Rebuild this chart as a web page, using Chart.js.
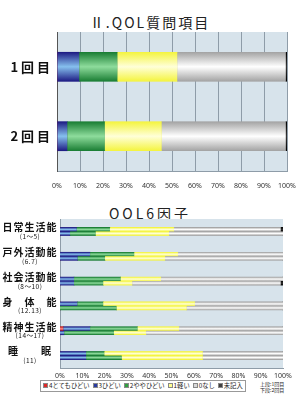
<!DOCTYPE html>
<html lang="ja">
<head>
<meta charset="UTF-8">
<title>QOL質問項目</title>
<script src="https://cdn.jsdelivr.net/npm/chart.js"></script>
<style>
  * { box-sizing: border-box; }
  body {
    margin: 0;
    width: 300px;
    height: 400px;
    background: #fff;
    font-family: "Noto Sans CJK JP", "Noto Sans", sans-serif;
    color: #222;
    position: relative;
    overflow: hidden;
  }
  .title {
    position: absolute;
    left: 0;
    width: 300px;
    text-align: center;
    font-size: 14px;
    line-height: 18px;
    letter-spacing: 2px;
  }
  .box { position: absolute; left: 0; width: 300px; }
  #legend {
    position: absolute;
    left: 40px;
    top: 380px;
    height: 12px;
    border: 1px solid #999;
    font-size: 6.3px;
    line-height: 10px;
    white-space: nowrap;
    padding: 0 2px;
  }
  #legend span { margin-right: 3px; }
  #legend span:last-child { margin-right: 0; }
  #legend i {
    display: inline-block;
    width: 5px;
    height: 5px;
    margin-right: 1px;
    vertical-align: 0;
  }
  #note {
    position: absolute;
    left: 260px;
    top: 381px;
    font-size: 5px;
    line-height: 6px;
  }
</style>
</head>
<body>
  <div class="title" style="top:13px">Ⅱ.QOL質問項目</div>
  <div class="box" style="top:0;height:195px"><canvas id="itemChart"></canvas></div>

  <div class="title" style="top:204px;letter-spacing:3px">QOL6因子</div>
  <div class="box" style="top:195px;height:185px"><canvas id="factorChart"></canvas></div>

  <div id="legend"></div>
  <div id="note">上段:1回目<br>下段:2回目</div>

<script>
  // 回答レベル
  const levels = ['4とてもひどい', '3ひどい', '2ややひどい', '1軽い', '0なし', '未記入'];

  // II. QOL質問項目 (%)
  const rounds = ['1回目', '2回目'];
  const item4 = [0, 0];
  const item3 = [9.7, 4.5];
  const item2 = [16.6, 16.3];
  const item1 = [26.0, 24.7];
  const item0 = [47.2, 54.0];
  const itemNA = [0.5, 0.5];

  // QOL6因子 (%)  上段=1回目 下段=2回目
  const factors = ['日常生活能', '戸外活動能', '社会活動能', '身　体　能', '精神生活能', '睡　　眠'];
  const factorItems = ['(1～5)', '(6.7)', '(8～10)', '(12.13)', '(14～17)', '(11)'];
  const first4 = [0, 0, 0, 0, 1.5, 0];
  const first3 = [7.5, 13.5, 6.3, 7.8, 12.0, 11.7];
  const first2 = [14.9, 19.8, 20.9, 11.6, 21.3, 8.2];
  const first1 = [28.7, 19.6, 18.1, 41.1, 18.6, 44.1];
  const first0 = [47.9, 47.1, 54.7, 39.5, 46.6, 36.0];
  const firstNA = [1, 0, 0, 0, 0, 0];
  const second4 = [0, 0, 0, 0, 0, 0];
  const second3 = [4.5, 7.9, 6.3, 0, 1.9, 11.7];
  const second2 = [11.5, 12.3, 13.1, 25.4, 22.3, 16.0];
  const second1 = [32.9, 26.9, 13.0, 31.4, 14.4, 36.3];
  const second0 = [51.1, 52.9, 66.6, 43.2, 61.4, 36.0];
  const secondNA = [0, 0, 1, 0, 0, 0];

  const xTicks = [0, 10, 20, 30, 40, 50, 60, 70, 80, 90, 100];

  // 見た目 (円柱っぽいグラデーション: 端, 中央)
  const shades = [
    ['#b81818', '#ff8a8a'],
    ['#1e1c84', '#86c0ee'],
    ['#1a7e34', '#8edc9c'],
    ['#f4f440', '#ffffd8'],
    ['#a4a4a4', '#ffffff'],
    ['#000000', '#333333']
  ];
  const swatch = ['#e02828', '#2a3aa0', '#30a040', '#ffff90', '#d8d8d8', '#404040'];

  const plotBg = {
    id: 'plotBg',
    beforeDraw(chart) {
      const { ctx, chartArea: a } = chart;
      ctx.save();
      ctx.fillStyle = '#d7e3eb';
      ctx.fillRect(a.left, a.top, a.width, a.height);
      ctx.restore();
    }
  };

  const shine = {
    id: 'shine',
    afterDatasetsDraw(chart) {
      const ctx = chart.ctx;
      ctx.save();
      chart.data.datasets.forEach((ds, i) => {
        const s = shades[ds.level];
        chart.getDatasetMeta(i).data.forEach(bar => {
          const { x, y, base, height } = bar.getProps(['x', 'y', 'base', 'height'], true);
          const w = Math.abs(x - base);
          if (w < 0.3) return;
          const g = ctx.createLinearGradient(0, y - height / 2, 0, y + height / 2);
          g.addColorStop(0, s[0]);
          g.addColorStop(0.5, s[1]);
          g.addColorStop(1, s[0]);
          ctx.fillStyle = g;
          ctx.fillRect(Math.min(x, base), y - height / 2, w, height);
        });
      });
      ctx.restore();
    }
  };

  const factorLabels = {
    id: 'factorLabels',
    afterDraw(chart) {
      const ctx = chart.ctx;
      const ys = chart.scales.y;
      const cx = ys.left + ys.width / 2;
      ctx.save();
      ctx.fillStyle = '#111';
      ctx.textAlign = 'center';
      ctx.textBaseline = 'middle';
      factors.forEach((f, i) => {
        const cy = ys.getPixelForValue(i);
        ctx.font = 'bold 10px "Noto Sans CJK JP"';
        ctx.letterSpacing = '1px';
        ctx.fillText(f, cx, cy - 4);
        ctx.font = '6.5px "Noto Sans CJK JP"';
        ctx.letterSpacing = '0.5px';
        ctx.fillText(factorItems[i], cx, cy + 5);
      });
      ctx.restore();
    }
  };

  const pct = v => v + '%';

  function xScale(gridOn, h) {
    return {
      stacked: true,
      min: 0,
      max: 100,
      afterBuildTicks: s => { s.ticks = xTicks.map(v => ({ value: v })); },
      afterFit: s => { s.height = h; },
      grid: {
        display: gridOn,
        color: '#8e9ca8',
        drawTicks: gridOn,
        tickLength: 7,
        tickColor: 'rgba(0,0,0,0)'
      },
      border: { display: true, color: '#8e9ca8' },
      ticks: {
        callback: pct,
        padding: 4,
        maxRotation: 0,
        minRotation: 0,
        autoSkip: false,
        color: '#333',
        font: { family: 'Noto Sans', size: 7 }
      }
    };
  }

  // II. QOL質問項目
  const itemSets = [item4, item3, item2, item1, item0, itemNA].map((d, i) => ({
    label: levels[i],
    level: i,
    data: d,
    backgroundColor: shades[i][0],
    borderWidth: 0,
    barThickness: 29
  }));

  new Chart(document.getElementById('itemChart'), {
    type: 'bar',
    data: { labels: rounds, datasets: itemSets },
    options: {
      indexAxis: 'y',
      responsive: true,
      maintainAspectRatio: false,
      animation: false,
      layout: { padding: { top: 32, right: 13, left: 0, bottom: 0 } },
      plugins: { legend: { display: false }, tooltip: { enabled: false } },
      scales: {
        x: xScale(true, 24),
        y: {
          stacked: true,
          afterFit: s => { s.width = 57; },
          grid: { display: false, drawTicks: false },
          border: { display: true, color: '#555' },
          ticks: {
            callback: function (v) { return this.getLabelForValue(v).split('').join(' '); },
            padding: 7,
            color: '#111',
            font: { family: '"Noto Sans CJK JP"', size: 13, weight: 'bold' }
          }
        }
      }
    },
    plugins: [plotBg, shine]
  });

  // QOL6因子
  const firstVals = [first4, first3, first2, first1, first0, firstNA];
  const secondVals = [second4, second3, second2, second1, second0, secondNA];
  const factorSets = [];
  firstVals.forEach((d, i) => factorSets.push({
    label: levels[i], level: i, data: d, stack: 'first',
    backgroundColor: shades[i][0], borderWidth: 0, barThickness: 4
  }));
  secondVals.forEach((d, i) => factorSets.push({
    label: levels[i], level: i, data: d, stack: 'second',
    backgroundColor: shades[i][0], borderWidth: 0, barThickness: 4
  }));

  new Chart(document.getElementById('factorChart'), {
    type: 'bar',
    data: { labels: factors, datasets: factorSets },
    options: {
      indexAxis: 'y',
      responsive: true,
      maintainAspectRatio: false,
      animation: false,
      categoryPercentage: 0.67,
      layout: { padding: { top: 24, right: 17, left: 0, bottom: 0 } },
      plugins: { legend: { display: false }, tooltip: { enabled: false } },
      scales: {
        x: xScale(false, 12),
        y: {
          stacked: true,
          afterFit: s => { s.width = 60; },
          grid: { display: false, drawTicks: false },
          border: { display: true, color: '#8e9ca8' },
          ticks: { display: false }
        }
      }
    },
    plugins: [plotBg, shine, factorLabels]
  });

  // 凡例
  document.getElementById('legend').innerHTML = levels.map((l, i) =>
    '<span><i style="background:' + swatch[i] + ';border:0.5px solid #888"></i>' + l + '</span>'
  ).join('');
</script>
</body>
</html>
